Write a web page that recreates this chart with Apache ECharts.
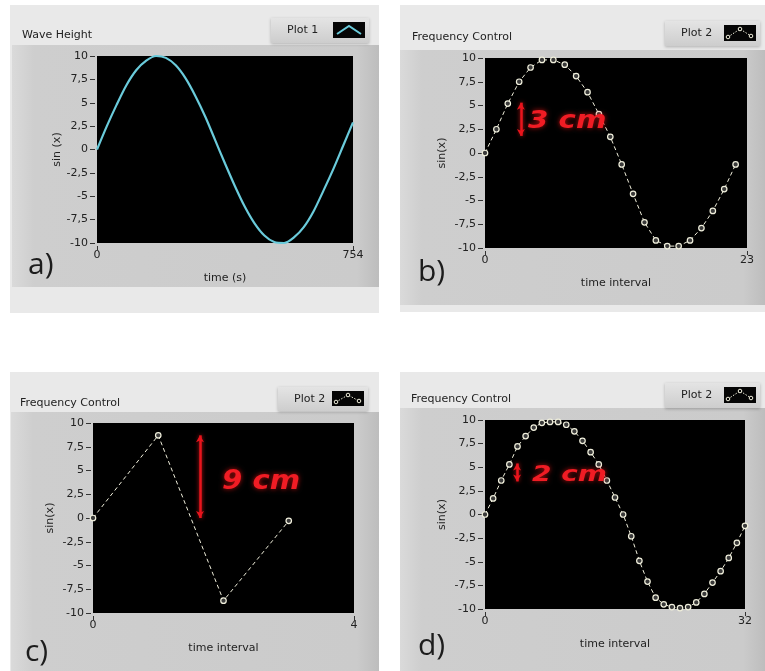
<!DOCTYPE html>
<html>
<head>
<meta charset="utf-8">
<script src="https://cdn.jsdelivr.net/npm/echarts@6/dist/echarts.min.js"></script>
<style>
  html, body { margin: 0; padding: 0; background: #ffffff; }
  #chart { width: 765px; height: 671px; }
</style>
</head>
<body>
<div id="chart"></div>
<script>
// ---- data ----
// a) Wave Height: continuous sine, sampled along the time axis
const waveTime = [0, 29, 58, 87, 116, 145, 174, 203, 232, 261, 290, 319, 348, 377,
  406, 435, 464, 493, 522, 551, 580, 609, 638, 667, 696, 725, 754];
const waveHeight = [0, 2.5, 4.8, 6.9, 8.5, 9.5, 10.0, 9.8, 9.0, 7.6, 5.7, 3.5, 1.0, -1.5,
  -3.9, -6.1, -7.9, -9.2, -9.9, -10.0, -9.4, -8.3, -6.6, -4.4, -2.1, 0.4, 2.9];

// b) Frequency Control, 23 samples
const freqB = [0, 2.5, 5.2, 7.5, 9.0, 9.8, 9.8, 9.3, 8.1, 6.4, 4.1, 1.7, -1.2, -4.3,
  -7.3, -9.2, -9.8, -9.8, -9.2, -7.9, -6.1, -3.8, -1.2];

// c) Frequency Control, 4 samples
const freqC = [0, 8.7, -8.7, -0.3];

// d) Frequency Control, 33 samples
const freqD = [0, 1.7, 3.6, 5.3, 7.2, 8.3, 9.2, 9.7, 9.8, 9.8, 9.5, 8.8, 7.8, 6.6, 5.3,
  3.6, 1.8, 0, -2.3, -4.9, -7.1, -8.8, -9.5, -9.8, -9.9, -9.8, -9.3, -8.4, -7.2, -6.0,
  -4.6, -3.0, -1.2];

// axis extents and labels
const xMaxes = [754, 23, 4, 32];
const titles = ['Wave Height', 'Frequency Control', 'Frequency Control', 'Frequency Control'];
const plotNames = ['Plot 1', 'Plot 2', 'Plot 2', 'Plot 2'];
const xNames = ['time (s)', 'time interval', 'time interval', 'time interval'];
const yNames = ['sin (x)', 'sin(x)', 'sin(x)', 'sin(x)'];
const panelTags = ['a)', 'b)', 'c)', 'd)'];

// red measurement markers: [x, yFrom, yTo] and their captions
const spans = [null, [3.15, 5.3, 1.8], [1.64, 8.7, 0.0], [3.95, 5.4, 3.5]];
const spanLabels = [null, '3 cm', '9 cm', '2 cm'];

// ---- layout ----
const grids = [
  { left: 97,  top: 56,  width: 256, height: 187 },
  { left: 485, top: 58,  width: 262, height: 190 },
  { left: 93,  top: 423, width: 261, height: 190 },
  { left: 485, top: 420, width: 260, height: 189 }
];
const frames = [
  { outer: [10, 5, 369, 308],  inner: [12, 45, 367, 242] },
  { outer: [400, 5, 365, 307], inner: [400, 50, 365, 255] },
  { outer: [10, 372, 369, 299], inner: [11, 412, 368, 259] },
  { outer: [400, 372, 365, 299], inner: [400, 408, 365, 263] }
];
const titlePos = [[22, 35], [412, 37], [20, 403], [411, 399]];
const legendBox = [[271, 18, 98, 25], [665, 21, 95, 25], [278, 387, 90, 24], [665, 383, 95, 25]];
const tagPos = [[28, 265], [418, 272], [25, 652], [418, 646]];
const captionPos = [null, [528, 122, 24, 1.22], [222, 482, 27, 1.08], [532, 475, 22, 1.27]];

const FONT = '"DejaVu Sans", "Liberation Sans", sans-serif';
const commaFmt = v => String(v).replace('.', ',');

const option = {
  animation: false,
  backgroundColor: '#ffffff',
  grid: grids.map(g => Object.assign({ show: true, backgroundColor: '#000000', borderWidth: 0 }, g)),
  xAxis: xMaxes.map((mx, i) => ({
    type: 'value', gridIndex: i, min: 0, max: mx, interval: mx,
    position: 'bottom', offset: 3,
    name: xNames[i], nameLocation: 'middle', nameGap: 27,
    nameTextStyle: { color: '#222', fontSize: 11, fontFamily: FONT },
    axisLine: { show: false, onZero: false },
    axisTick: { show: true, length: 4, lineStyle: { color: '#333' } },
    axisLabel: { color: '#222', fontSize: 11, fontFamily: FONT, margin: 4 },
    splitLine: { show: false }
  })),
  yAxis: xMaxes.map((mx, i) => ({
    type: 'value', gridIndex: i, min: -10, max: 10, interval: 2.5,
    position: 'left', offset: 2,
    name: yNames[i], nameLocation: 'middle', nameGap: i === 0 ? 31 : 35,
    nameTextStyle: { color: '#222', fontSize: 11, fontFamily: FONT },
    axisLine: { show: false, onZero: false },
    axisTick: { show: true, length: 5, lineStyle: { color: '#333' } },
    axisLabel: { color: '#222', fontSize: 11, fontFamily: FONT, margin: 7, formatter: commaFmt },
    splitLine: { show: false }
  })),
  series: [],
  graphic: { elements: [] }
};

// a) solid cyan trace
option.series.push({
  type: 'line', xAxisIndex: 0, yAxisIndex: 0, smooth: 0.3, showSymbol: false,
  data: waveTime.map((t, k) => [t, waveHeight[k]]),
  lineStyle: { color: '#6acbdb', width: 2.2 }, clip: false
});

// b) c) d) dashed traces with point markers
[freqB, freqC, freqD].forEach((vals, j) => {
  const i = j + 1;
  const s = spans[i];
  option.series.push({
    type: 'line', xAxisIndex: i, yAxisIndex: i, clip: false,
    data: vals.map((v, k) => [k, v]),
    symbol: 'circle', symbolSize: 5.5,
    itemStyle: { color: '#3a3a3a', borderColor: '#f0efdc', borderWidth: 1.2 },
    lineStyle: { color: '#f0efdc', width: 1, type: [4, 3] },
    markLine: {
      silent: true, animation: false,
      symbol: ['arrow', 'arrow'], symbolSize: [6, 7],
      label: { show: false },
      lineStyle: { color: '#e8141c', width: 2.5, type: 'solid',
        shadowColor: 'rgba(255,30,30,0.8)', shadowBlur: 4 },
      data: [[{ coord: [s[0], s[1]] }, { coord: [s[0], s[2]] }]]
    }
  });
});

const G = option.graphic.elements;
frames.forEach((f, i) => {
  G.push({ type: 'rect', z: -20, shape: { x: f.outer[0], y: f.outer[1], width: f.outer[2], height: f.outer[3] },
    style: { fill: '#e9e9e9' } });
  G.push({ type: 'rect', z: -19, shape: { x: f.inner[0], y: f.inner[1], width: f.inner[2], height: f.inner[3] },
    style: { fill: new echarts.graphic.LinearGradient(0, 0, 1, 0, [
      { offset: 0, color: '#dadada' }, { offset: 0.06, color: '#cecece' },
      { offset: 0.94, color: '#cbcbcb' }, { offset: 1, color: '#bdbdbd' }]) } });
  // title
  G.push({ type: 'text', z: 5, x: titlePos[i][0], y: titlePos[i][1],
    style: { text: titles[i], fill: '#222', font: '11px ' + FONT, textVerticalAlign: 'middle' } });
  // legend box
  const b = legendBox[i];
  G.push({ type: 'rect', z: 4, shape: { x: b[0], y: b[1], width: b[2], height: b[3] },
    style: { fill: new echarts.graphic.LinearGradient(0, 0, 0, 1, [
      { offset: 0, color: '#e4e4e4' }, { offset: 1, color: '#cdcdcd' }]),
      shadowColor: 'rgba(0,0,0,0.25)', shadowBlur: 3, shadowOffsetY: 1 } });
  G.push({ type: 'text', z: 5, x: b[0] + 16, y: b[1] + b[3] / 2,
    style: { text: plotNames[i], fill: '#222', font: '11px ' + FONT, textVerticalAlign: 'middle' } });
  const ix = b[0] + b[2] - 36, iy = b[1] + 4, iw = 32, ih = b[3] - 9;
  G.push({ type: 'rect', z: 5, shape: { x: ix, y: iy, width: iw, height: ih }, style: { fill: '#050505' } });
  if (i === 0) {
    G.push({ type: 'polyline', z: 6, shape: { points: [[ix + 4, iy + ih - 4], [ix + iw / 2, iy + 4], [ix + iw - 4, iy + ih - 4]] },
      style: { stroke: '#6acbdb', lineWidth: 2, fill: null } });
  } else {
    const pts = [[ix + 4, iy + ih - 4], [ix + iw / 2, iy + 4], [ix + iw - 5, iy + ih - 5]];
    G.push({ type: 'polyline', z: 6, shape: { points: pts },
      style: { stroke: '#f0efdc', lineWidth: 1, lineDash: [1.5, 1.5], fill: null } });
    pts.forEach(p => {
      G.push({ type: 'circle', z: 7, shape: { cx: p[0], cy: p[1], r: 1.8 },
        style: { fill: '#050505', stroke: '#f0efdc', lineWidth: 1 } });
    });
  }
  // panel tag
  G.push({ type: 'text', z: 5, x: tagPos[i][0], y: tagPos[i][1],
    style: { text: panelTags[i], fill: '#1c1c1c', font: '30px "Open Sans", "Noto Sans", sans-serif', textVerticalAlign: 'middle' } });
  // red caption with soft glow
  if (captionPos[i]) {
    const c = captionPos[i];
    G.push({ type: 'text', z: 50, x: c[0], y: c[1], scaleX: c[3],
      style: { text: spanLabels[i], fill: '#f01c24',
        font: 'italic bold ' + c[2] + 'px "DejaVu Sans", sans-serif', textVerticalAlign: 'middle',
        textShadowColor: 'rgba(255,20,20,0.7)', textShadowBlur: 5 } });
  }
});

const chart = echarts.init(document.getElementById('chart'), null, { renderer: 'canvas' });
chart.setOption(option);
</script>
</body>
</html>
